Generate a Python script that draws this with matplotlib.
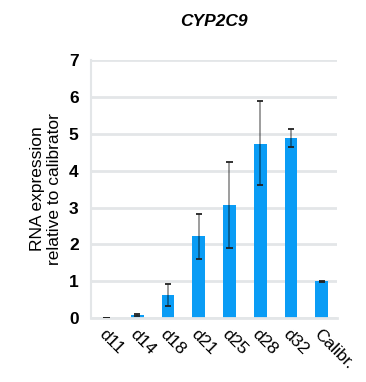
import numpy as np
import matplotlib.pyplot as plt

plt.rcParams['font.family'] = ['Liberation Sans', 'DejaVu Sans']

samples = ['d11', 'd14', 'd18', 'd21', 'd25', 'd28', 'd32', 'Calibr.']
expr = [0.01, 0.08, 0.62, 2.22, 3.07, 4.72, 4.88, 1.0]
err_low = [0.0, 0.03, 0.29, 0.62, 1.17, 1.12, 0.23, 0.02]
err_high = [0.0, 0.03, 0.30, 0.61, 1.16, 1.16, 0.24, 0.02]

fig = plt.figure(figsize=(3.66, 3.82), dpi=100)
ax = fig.add_axes([0.249, 0.167, 0.672, 0.676])

x = np.arange(len(samples))
ax.bar(x, expr, width=0.42, color='#0a9cf5', zorder=2)
ax.errorbar(x, expr, yerr=[err_low, err_high], fmt='none', ecolor='black',
            alpha=0.45, elinewidth=1.2, capsize=0, zorder=3)
# caps in dark
lo = np.array(expr) - np.array(err_low)
hi = np.array(expr) + np.array(err_high)
ax.hlines(np.r_[lo, hi], np.r_[x, x] - 0.1, np.r_[x, x] + 0.1, color='#222222', lw=1.3, zorder=4)

ax.set_ylim(0, 7)
ax.set_xlim(-0.5, len(samples) - 0.5)
ax.set_yticks(range(8))
ax.yaxis.grid(True, color='#e3e6e8', lw=2, zorder=0)
ax.set_axisbelow(True)
for s in ['top', 'right']:
    ax.spines[s].set_visible(False)
ax.spines['left'].set_color('#e3e6e8')
ax.spines['bottom'].set_color('#e3e6e8')
ax.spines['left'].set_linewidth(1.5)
ax.spines['bottom'].set_linewidth(2)
ax.tick_params(length=0, pad=9)
ax.set_xticks(x)
ax.set_xticklabels(samples, rotation=-45, ha='left', rotation_mode='anchor', fontsize=12.5)
ax.tick_params(axis='x', pad=6)
for t in ax.get_yticklabels():
    t.set_fontweight('bold')
    t.set_fontsize(12.5)

ax.set_ylabel('RNA expression\nrelative to calibrator', fontsize=12.5, labelpad=5)
fig.text(0.585, 0.945, 'CYP2C9', ha='center', va='center', fontsize=12.5,
         fontweight='bold', fontstyle='italic')

fig.savefig('out.png', dpi=100)
